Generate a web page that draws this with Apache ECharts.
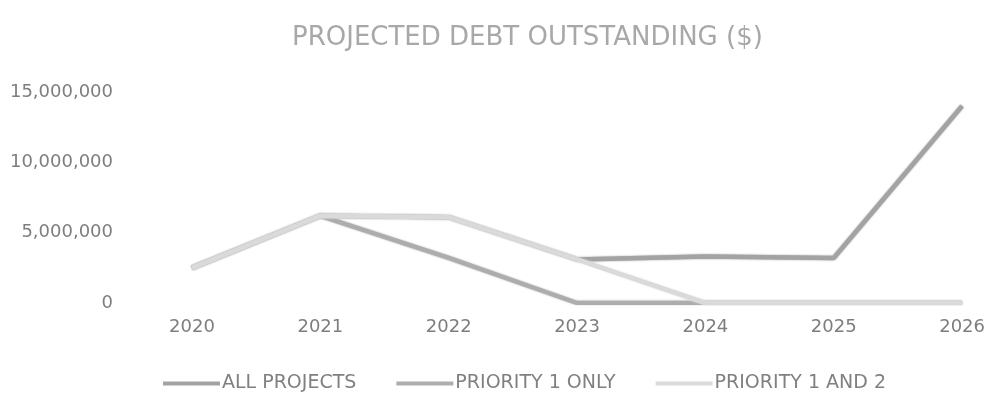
<!DOCTYPE html>
<html>
<head>
<meta charset="utf-8">
<script src="https://cdn.jsdelivr.net/npm/echarts@6/dist/echarts.min.js"></script>
<style>
  html, body { margin: 0; padding: 0; background: #fff; }
  #chart { width: 988px; height: 398px; }
</style>
</head>
<body>
<div id="chart"></div>
<script>
// Projected debt outstanding by year, three funding scenarios (dollars)
const years = ['2020', '2021', '2022', '2023', '2024', '2025', '2026'];
const allProjects = [2500000, 6200000, 6100000, 3100000, 3300000, 3200000, 14000000];
const priority1Only = [2500000, 6200000, 3200000, 0, 0, 0, 0];
const priority1And2 = [2500000, 6200000, 6100000, 3100000, 0, 0, 0];
const seriesNames = ['ALL PROJECTS', 'PRIORITY 1 ONLY', 'PRIORITY 1 AND 2'];
const seriesColors = ['#a3a3a3', '#adadad', '#dadada'];
const yTicks = { min: 0, max: 15000000, interval: 5000000 };

const fontFamily = 'DejaVu Sans, sans-serif';
const chart = echarts.init(document.getElementById('chart'), null, { renderer: 'canvas' });

const lineSeries = [allProjects, priority1Only, priority1And2].map((values, i) => ({
  name: seriesNames[i],
  type: 'line',
  data: values,
  symbol: 'none',
  showSymbol: false,
  smooth: false,
  lineStyle: {
    width: 4.5,
    color: seriesColors[i],
    shadowBlur: 2,
    shadowColor: seriesColors[i]
  },
  itemStyle: { color: seriesColors[i] },
  emphasis: { disabled: true }
}));

chart.setOption({
  animation: false,
  backgroundColor: '#ffffff',
  title: {
    text: 'PROJECTED DEBT OUTSTANDING ($)',
    left: 287,
    top: 20,
    textStyle: {
      fontFamily: fontFamily,
      fontSize: 26,
      fontWeight: 'normal',
      color: '#a8a8a8'
    }
  },
  legend: {
    data: seriesNames,
    bottom: 0,
    left: 158,
    icon: 'rect',
    itemWidth: 57,
    itemHeight: 4,
    itemGap: 40,
    textStyle: {
      fontFamily: fontFamily,
      fontSize: 19,
      color: '#808080',
      padding: [0, 0, 0, -3]
    }
  },
  grid: {
    left: 192,
    right: 25,
    top: 92,
    bottom: 95,
    containLabel: false
  },
  xAxis: {
    type: 'category',
    data: years,
    boundaryGap: false,
    axisLine: { show: false },
    axisTick: { show: false },
    splitLine: { show: false },
    axisLabel: {
      margin: 15,
      fontFamily: fontFamily,
      fontSize: 18,
      color: '#7e7e7e'
    }
  },
  yAxis: {
    type: 'value',
    min: yTicks.min,
    max: yTicks.max,
    interval: yTicks.interval,
    axisLine: { show: false },
    axisTick: { show: false },
    splitLine: { show: false },
    axisLabel: {
      margin: 79,
      fontFamily: fontFamily,
      fontSize: 18,
      color: '#7e7e7e',
      formatter: v => v.toLocaleString('en-US')
    }
  },
  series: lineSeries
});
</script>
</body>
</html>
